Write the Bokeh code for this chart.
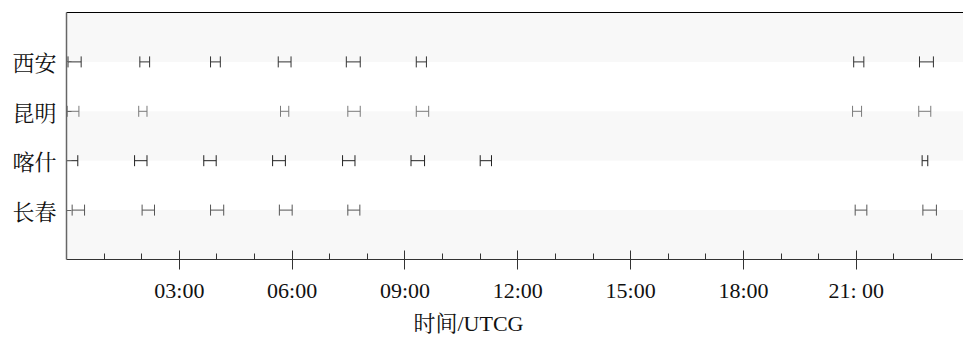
import math
from bokeh.plotting import figure
from bokeh.models import (ColumnDataSource, LinearAxis, FixedTicker, Range1d, Title)
from bokeh.embed import file_html
from bokeh.resources import INLINE

# ---- data (hours, UTC) ----
stations = ["西安", "昆明", "喀什", "长春"]
station_rows = [4, 3, 2, 1]
station_colors = ["#333333", "#7a7a7a", "#222222", "#555555"]

xian_start = [0.04, 1.95, 3.83, 5.63, 7.44, 9.30, 20.93, 22.68]
xian_end = [0.39, 2.21, 4.09, 5.97, 7.81, 9.57, 21.20, 23.05]
kunming_start = [0.02, 1.92, 5.69, 7.48, 9.30, 20.90, 22.66]
kunming_end = [0.33, 2.14, 5.91, 7.81, 9.63, 21.14, 22.98]
kashi_start = [0.00, 1.81, 3.65, 5.48, 7.34, 9.16, 11.00, 22.75]
kashi_end = [0.30, 2.14, 3.98, 5.82, 7.67, 9.52, 11.30, 22.90]
changchun_start = [0.15, 2.01, 3.83, 5.66, 7.48, 20.97, 22.77]
changchun_end = [0.48, 2.34, 4.18, 6.00, 7.80, 21.28, 23.13]

starts = [xian_start, kunming_start, kashi_start, changchun_start]
ends = [xian_end, kunming_end, kashi_end, changchun_end]

x_major_ticks = [3, 6, 9, 12, 15, 18, 21]
x_tick_labels = ["03:00", "06:00", "09:00", "12:00", "15:00", "18:00", "21: 00"]
x_minor_ticks = list(range(1, 24))
band_bottoms = [0, 2, 4]
x_label = "时间/UTCG"

CJK = "'Noto Serif CJK SC', 'Noto Sans CJK SC'"
SERIF = "'Liberation Serif', 'Noto Serif CJK SC', 'Noto Sans CJK SC'"

p = figure(width=963, height=338, output_backend="svg", toolbar_location=None,
           x_range=Range1d(0, 23.85), y_range=Range1d(0, 5),
           x_axis_type=None, y_axis_type=None,
           min_border_left=66, min_border_right=0, min_border_top=12, min_border_bottom=78)
p.outline_line_color = None
p.background_fill_color = "white"
p.border_fill_color = "white"
p.xgrid.visible = False
p.ygrid.visible = False

# alternating bands
p.quad(left=0, right=24, bottom=band_bottoms, top=[b + 1 for b in band_bottoms],
       fill_color="#f8f8f8", line_color=None)

# intervals: horizontal bar plus end caps
for row, st, en, col in zip(station_rows, starts, ends, station_colors):
    src = ColumnDataSource(dict(y=[row] * len(st), lo=st, hi=en))
    p.segment(x0="lo", x1="hi", y0="y", y1="y", source=src, line_color=col, line_width=1)
    p.scatter(x="lo", y="y", source=src, marker="dash", size=11, angle=math.pi / 2,
              line_color=col, line_width=1)
    p.scatter(x="hi", y="y", source=src, marker="dash", size=11, angle=math.pi / 2,
              line_color=col, line_width=1)

# x axis
xa = LinearAxis(ticker=FixedTicker(ticks=x_major_ticks, minor_ticks=x_minor_ticks))
xa.major_label_overrides = dict(zip(x_major_ticks, x_tick_labels))
xa.major_tick_in = 9
xa.major_tick_out = 10
xa.minor_tick_in = 6
xa.minor_tick_out = 0
xa.axis_line_color = "#333333"
xa.major_tick_line_color = "#333333"
xa.minor_tick_line_color = "#333333"
xa.major_label_text_font = SERIF
xa.major_label_text_font_size = "22px"
xa.major_label_text_color = "#111111"
xa.major_label_standoff = 8
p.add_layout(xa, "below")

# x axis title, placed where the reference has it
p.add_layout(Title(text=x_label, align="left", offset=347, standoff=6,
                   text_font=SERIF, text_font_size="22px", text_font_style="normal",
                   text_color="#111111"), "below")

# y axis
ya = LinearAxis(ticker=FixedTicker(ticks=station_rows, minor_ticks=[]))
ya.major_label_overrides = dict(zip(station_rows, stations))
ya.major_tick_in = 5
ya.major_tick_out = 0
ya.minor_tick_in = 0
ya.minor_tick_out = 0
ya.axis_line_color = "#666666"
ya.axis_line_width = 1.5
ya.major_tick_line_color = "#666666"
ya.major_label_text_font = CJK
ya.major_label_text_font_size = "22px"
ya.major_label_text_color = "#111111"
ya.major_label_standoff = 10
p.add_layout(ya, "left")

# top border line
ta = LinearAxis(ticker=FixedTicker(ticks=[], minor_ticks=[]))
ta.axis_line_color = "#000000"
ta.major_tick_in = 0
ta.major_tick_out = 0
ta.minor_tick_in = 0
ta.minor_tick_out = 0
ta.major_label_text_font_size = "0px"
p.add_layout(ta, "above")

open("out.html", "w").write(file_html(p, INLINE))
